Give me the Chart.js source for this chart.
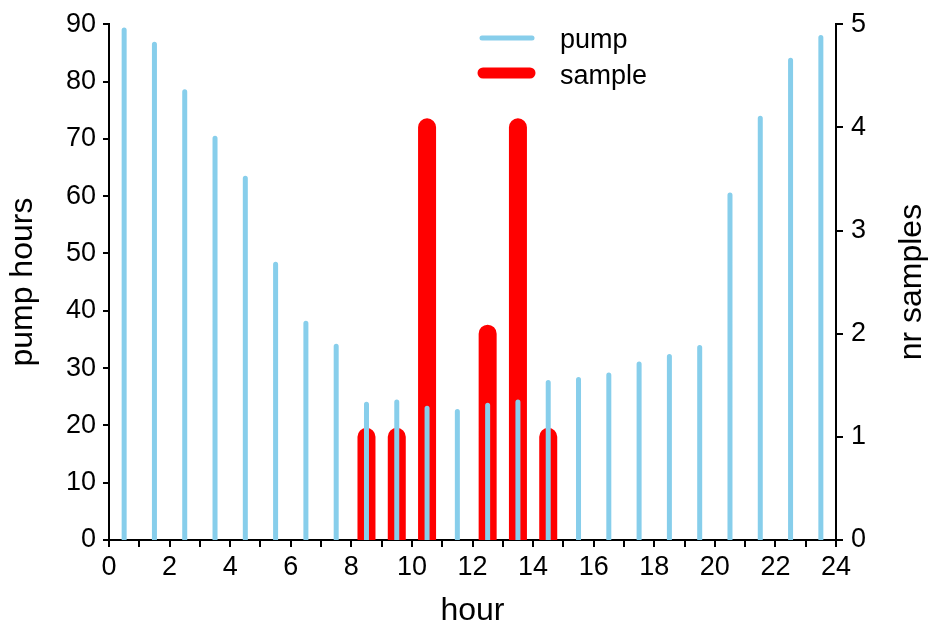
<!DOCTYPE html>
<html>
<head>
<meta charset="utf-8">
<script src="https://cdn.jsdelivr.net/npm/chart.js@4/dist/chart.umd.min.js"></script>
<style>
html,body{margin:0;padding:0;background:#fff;}
#wrap{width:936px;height:630px;position:relative;}
</style>
</head>
<body>
<div id="wrap"><canvas id="c" width="936" height="630"></canvas></div>
<script>
// ---- data ----
const hours = [0.5,1.5,2.5,3.5,4.5,5.5,6.5,7.5,8.5,9.5,10.5,11.5,12.5,13.5,14.5,15.5,16.5,17.5,18.5,19.5,20.5,21.5,22.5,23.5];
const pumpHours = [89,86.5,78.2,70.1,63.1,48.1,37.8,33.8,23.7,24.1,23,22.4,23.5,24.1,27.5,28,28.8,30.7,32,33.6,60.2,73.6,83.7,87.7];
const sampleCounts = [0,0,0,0,0,0,0,0,1,1,4,0,2,4,1,0,0,0,0,0,0,0,0,0];
const xTickLabels = [0,2,4,6,8,10,12,14,16,18,20,22,24];
const leftTicks = [0,10,20,30,40,50,60,70,80,90];
const rightTicks = [0,1,2,3,4,5];
const seriesNames = ['pump','sample'];
const seriesColors = ['#87CEEB','#FF0000'];
const xTitle = 'hour';
const leftTitle = 'pump hours';
const rightTitle = 'nr samples';

// vertical stems from 0 to value, separated by gaps
function stems(xs, ys){
  const out = [];
  xs.forEach((x,i)=>{
    if (ys[i] > 0){ out.push({x:x,y:0},{x:x,y:ys[i]},{x:x,y:null}); }
  });
  return out;
}

const FONT = "'Liberation Sans', Arial, sans-serif";
Chart.defaults.font.family = FONT;
Chart.defaults.font.size = 27;
Chart.defaults.color = '#000';

const extras = {
  id:'extras',
  afterDraw(chart){
    const ctx = chart.ctx;
    const ca = chart.chartArea;
    ctx.save();
    // legend
    const legend = [
      {name:seriesNames[0], color:seriesColors[0], lw:5, x0:482, x1:532, y:38, ty:47.5},
      {name:seriesNames[1], color:seriesColors[1], lw:11, x0:483, x1:530, y:73, ty:84}
    ];
    ctx.lineCap = 'round';
    legend.forEach(it=>{
      ctx.strokeStyle = it.color; ctx.lineWidth = it.lw;
      ctx.beginPath(); ctx.moveTo(it.x0,it.y); ctx.lineTo(it.x1,it.y); ctx.stroke();
      ctx.fillStyle = '#000';
      ctx.font = "27px " + FONT;
      ctx.textAlign = 'left'; ctx.textBaseline = 'alphabetic';
      ctx.fillText(it.name, 560, it.ty);
    });
    // right axis title (reads bottom-to-top)
    ctx.translate(912, (ca.top+ca.bottom)/2);
    ctx.rotate(-Math.PI/2);
    ctx.font = "32px " + FONT;
    ctx.textAlign = 'center'; ctx.textBaseline = 'middle';
    ctx.fillStyle = '#000';
    ctx.fillText(rightTitle, 0, 0);
    ctx.restore();
  }
};

const axisGrid = {display:true, drawOnChartArea:false, drawTicks:true, color:'#000', lineWidth:2};
const axisBorder = {display:true, color:'#000', width:2};

new Chart(document.getElementById('c'), {
  type:'line',
  data:{
    datasets:[
      {label:seriesNames[0], data:stems(hours,pumpHours), borderColor:seriesColors[0], borderWidth:5,
       borderCapStyle:'round', pointRadius:0, pointHoverRadius:0, spanGaps:false, yAxisID:'y', order:0,
       clip:{left:false,right:false,top:false,bottom:0}},
      {label:seriesNames[1], data:stems(hours,sampleCounts), borderColor:seriesColors[1], borderWidth:18,
       borderCapStyle:'round', pointRadius:0, pointHoverRadius:0, spanGaps:false, yAxisID:'y2', order:1,
       clip:{left:false,right:false,top:false,bottom:0}}
    ]
  },
  options:{
    responsive:false, animation:false,
    layout:{padding:{left:0,right:0,top:22,bottom:0}},
    plugins:{legend:{display:false}, tooltip:{enabled:false}},
    scales:{
      x:{type:'linear', position:'bottom', min:0, max:24,
         grid:Object.assign({}, axisGrid, {tickLength:7}), border:axisBorder,
         ticks:{stepSize:1, autoSkip:false, maxRotation:0, padding:4,
                callback:v=> xTickLabels.includes(v) ? String(v) : ''},
         title:{display:true, text:xTitle, font:{size:32}, padding:{top:0,bottom:0}},
         afterFit:s=>{ s.height = 90; }},
      y:{type:'linear', position:'left', min:0, max:90,
         grid:Object.assign({}, axisGrid, {tickLength:6}), border:axisBorder,
         ticks:{padding:7},
         afterBuildTicks:s=>{ s.ticks = leftTicks.map(v=>({value:v})); },
         title:{display:true, text:leftTitle, font:{size:32}, padding:{top:4,bottom:0}},
         afterFit:s=>{ s.width = 109; }},
      y2:{type:'linear', position:'right', min:0, max:5,
         grid:Object.assign({}, axisGrid, {tickLength:7}), border:axisBorder,
         ticks:{padding:8},
         afterBuildTicks:s=>{ s.ticks = rightTicks.map(v=>({value:v})); },
         title:{display:false},
         afterFit:s=>{ s.width = 100; }}
    }
  },
  plugins:[extras]
});
</script>
</body>
</html>
